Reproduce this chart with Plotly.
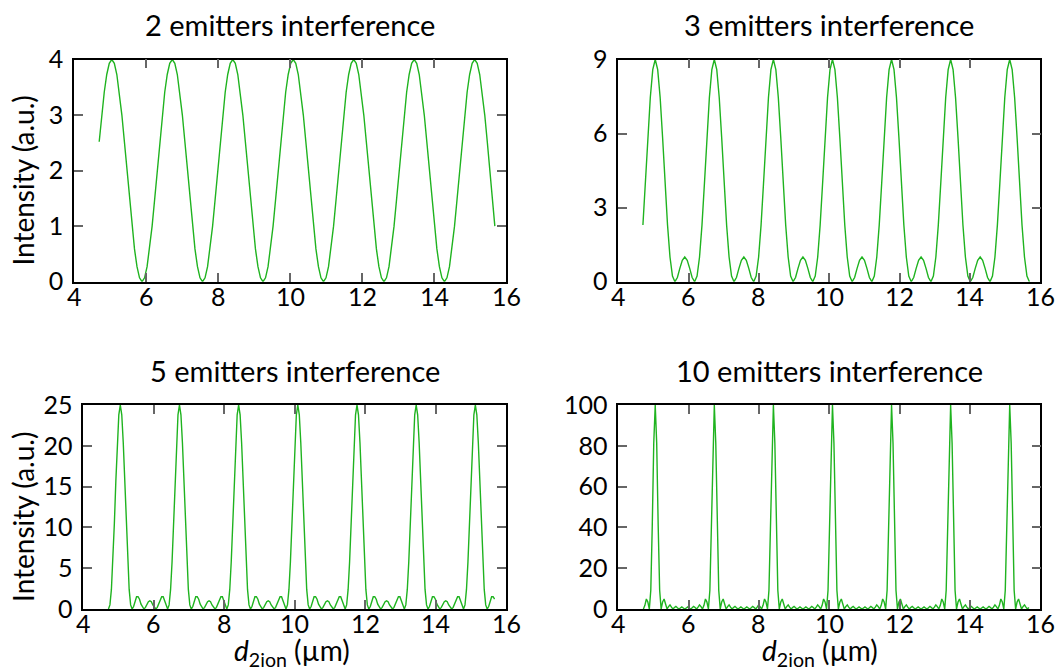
import plotly.graph_objects as go

# ---------------- data ----------------
# sampling grids (start, step) for the curves, in µm
X0_23, DX_23 = 4.70, 0.07     # 2 and 3 emitters
X0_510, DX_510 = 4.714, 0.042  # 5 and 10 emitters

y_2emit = [
    2.52, 3.0, 3.41, 3.73, 3.93,
    4, 3.93, 3.73, 3.41, 3.0, 2.52, 2.0, 1.48, 1.0, 0.59, 0.27, 0.07, 0, 0.07, 0.27, 0.59, 1.0, 1.48, 2.0, 2.52, 3.0, 3.41, 3.73, 3.93,
    4, 3.93, 3.73, 3.41, 3.0, 2.52, 2.0, 1.48, 1.0, 0.59, 0.27, 0.07, 0, 0.07, 0.27, 0.59, 1.0, 1.48, 2.0, 2.52, 3.0, 3.41, 3.73, 3.93,
    4, 3.93, 3.73, 3.41, 3.0, 2.52, 2.0, 1.48, 1.0, 0.59, 0.27, 0.07, 0, 0.07, 0.27, 0.59, 1.0, 1.48, 2.0, 2.52, 3.0, 3.41, 3.73, 3.93,
    4, 3.93, 3.73, 3.41, 3.0, 2.52, 2.0, 1.48, 1.0, 0.59, 0.27, 0.07, 0, 0.07, 0.27, 0.59, 1.0, 1.48, 2.0, 2.52, 3.0, 3.41, 3.73, 3.93,
    4, 3.93, 3.73, 3.41, 3.0, 2.52, 2.0, 1.48, 1.0, 0.59, 0.27, 0.07, 0, 0.07, 0.27, 0.59, 1.0, 1.48, 2.0, 2.52, 3.0, 3.41, 3.73, 3.93,
    4, 3.93, 3.73, 3.41, 3.0, 2.52, 2.0, 1.48, 1.0, 0.59, 0.27, 0.07, 0, 0.07, 0.27, 0.59, 1.0, 1.48, 2.0, 2.52, 3.0, 3.41, 3.73, 3.93,
    4, 3.93, 3.73, 3.41, 3.0, 2.52, 2.0, 1.48, 1.0,
]

y_3emit = [
    2.30, 4.0, 5.83, 7.46, 8.59,
    9, 8.59, 7.46, 5.83, 4.0, 2.30, 1.0, 0.23, 0, 0.17, 0.54, 0.87, 1.0, 0.87, 0.54, 0.17, 0, 0.23, 1.0, 2.30, 4.0, 5.83, 7.46, 8.59,
    9, 8.59, 7.46, 5.83, 4.0, 2.30, 1.0, 0.23, 0, 0.17, 0.54, 0.87, 1.0, 0.87, 0.54, 0.17, 0, 0.23, 1.0, 2.30, 4.0, 5.83, 7.46, 8.59,
    9, 8.59, 7.46, 5.83, 4.0, 2.30, 1.0, 0.23, 0, 0.17, 0.54, 0.87, 1.0, 0.87, 0.54, 0.17, 0, 0.23, 1.0, 2.30, 4.0, 5.83, 7.46, 8.59,
    9, 8.59, 7.46, 5.83, 4.0, 2.30, 1.0, 0.23, 0, 0.17, 0.54, 0.87, 1.0, 0.87, 0.54, 0.17, 0, 0.23, 1.0, 2.30, 4.0, 5.83, 7.46, 8.59,
    9, 8.59, 7.46, 5.83, 4.0, 2.30, 1.0, 0.23, 0, 0.17, 0.54, 0.87, 1.0, 0.87, 0.54, 0.17, 0, 0.23, 1.0, 2.30, 4.0, 5.83, 7.46, 8.59,
    9, 8.59, 7.46, 5.83, 4.0, 2.30, 1.0, 0.23, 0, 0.17, 0.54, 0.87, 1.0, 0.87, 0.54, 0.17, 0, 0.23, 1.0, 2.30, 4.0, 5.83, 7.46, 8.59,
    9, 8.59, 7.46, 5.83, 4.0, 2.30, 1.0, 0.23, 0,
]

y_5emit = [
    0, 0.5, 2.4, 5.8, 10.5, 15.7, 20.4, 23.8,
    25, 23.8, 20.4, 15.7, 10.5, 5.8, 2.4, 0.5, 0, 0.3, 1.0, 1.5, 1.5, 1.2, 0.6, 0.2, 0, 0.2, 0.5, 0.9, 1.0, 0.9, 0.5, 0.2, 0, 0.2, 0.6, 1.2, 1.5, 1.5, 1.0, 0.3, 0, 0.5, 2.4, 5.8, 10.5, 15.7, 20.4, 23.8,
    25, 23.8, 20.4, 15.7, 10.5, 5.8, 2.4, 0.5, 0, 0.3, 1.0, 1.5, 1.5, 1.2, 0.6, 0.2, 0, 0.2, 0.5, 0.9, 1.0, 0.9, 0.5, 0.2, 0, 0.2, 0.6, 1.2, 1.5, 1.5, 1.0, 0.3, 0, 0.5, 2.4, 5.8, 10.5, 15.7, 20.4, 23.8,
    25, 23.8, 20.4, 15.7, 10.5, 5.8, 2.4, 0.5, 0, 0.3, 1.0, 1.5, 1.5, 1.2, 0.6, 0.2, 0, 0.2, 0.5, 0.9, 1.0, 0.9, 0.5, 0.2, 0, 0.2, 0.6, 1.2, 1.5, 1.5, 1.0, 0.3, 0, 0.5, 2.4, 5.8, 10.5, 15.7, 20.4, 23.8,
    25, 23.8, 20.4, 15.7, 10.5, 5.8, 2.4, 0.5, 0, 0.3, 1.0, 1.5, 1.5, 1.2, 0.6, 0.2, 0, 0.2, 0.5, 0.9, 1.0, 0.9, 0.5, 0.2, 0, 0.2, 0.6, 1.2, 1.5, 1.5, 1.0, 0.3, 0, 0.5, 2.4, 5.8, 10.5, 15.7, 20.4, 23.8,
    25, 23.8, 20.4, 15.7, 10.5, 5.8, 2.4, 0.5, 0, 0.3, 1.0, 1.5, 1.5, 1.2, 0.6, 0.2, 0, 0.2, 0.5, 0.9, 1.0, 0.9, 0.5, 0.2, 0, 0.2, 0.6, 1.2, 1.5, 1.5, 1.0, 0.3, 0, 0.5, 2.4, 5.8, 10.5, 15.7, 20.4, 23.8,
    25, 23.8, 20.4, 15.7, 10.5, 5.8, 2.4, 0.5, 0, 0.3, 1.0, 1.5, 1.5, 1.2, 0.6, 0.2, 0, 0.2, 0.5, 0.9, 1.0, 0.9, 0.5, 0.2, 0, 0.2, 0.6, 1.2, 1.5, 1.5, 1.0, 0.3, 0, 0.5, 2.4, 5.8, 10.5, 15.7, 20.4, 23.8,
    25, 23.8, 20.4, 15.7, 10.5, 5.8, 2.4, 0.5, 0, 0.3, 1.0, 1.5, 1.5, 1.2,
]

y_10emit = [
    0, 1.8, 4.9, 3.4, 0, 9.2, 40.9, 81.2,
    100, 81.2, 40.9, 9.2, 0, 3.4, 4.9, 1.8, 0, 1.2, 2.0, 0.9, 0, 0.7, 1.3, 0.6, 0, 0.5, 1.0, 0.5, 0, 0.5, 1.0, 0.5, 0, 0.6, 1.3, 0.7, 0, 0.9, 2.0, 1.2, 0, 1.8, 4.9, 3.4, 0, 9.2, 40.9, 81.2,
    100, 81.2, 40.9, 9.2, 0, 3.4, 4.9, 1.8, 0, 1.2, 2.0, 0.9, 0, 0.7, 1.3, 0.6, 0, 0.5, 1.0, 0.5, 0, 0.5, 1.0, 0.5, 0, 0.6, 1.3, 0.7, 0, 0.9, 2.0, 1.2, 0, 1.8, 4.9, 3.4, 0, 9.2, 40.9, 81.2,
    100, 81.2, 40.9, 9.2, 0, 3.4, 4.9, 1.8, 0, 1.2, 2.0, 0.9, 0, 0.7, 1.3, 0.6, 0, 0.5, 1.0, 0.5, 0, 0.5, 1.0, 0.5, 0, 0.6, 1.3, 0.7, 0, 0.9, 2.0, 1.2, 0, 1.8, 4.9, 3.4, 0, 9.2, 40.9, 81.2,
    100, 81.2, 40.9, 9.2, 0, 3.4, 4.9, 1.8, 0, 1.2, 2.0, 0.9, 0, 0.7, 1.3, 0.6, 0, 0.5, 1.0, 0.5, 0, 0.5, 1.0, 0.5, 0, 0.6, 1.3, 0.7, 0, 0.9, 2.0, 1.2, 0, 1.8, 4.9, 3.4, 0, 9.2, 40.9, 81.2,
    100, 81.2, 40.9, 9.2, 0, 3.4, 4.9, 1.8, 0, 1.2, 2.0, 0.9, 0, 0.7, 1.3, 0.6, 0, 0.5, 1.0, 0.5, 0, 0.5, 1.0, 0.5, 0, 0.6, 1.3, 0.7, 0, 0.9, 2.0, 1.2, 0, 1.8, 4.9, 3.4, 0, 9.2, 40.9, 81.2,
    100, 81.2, 40.9, 9.2, 0, 3.4, 4.9, 1.8, 0, 1.2, 2.0, 0.9, 0, 0.7, 1.3, 0.6, 0, 0.5, 1.0, 0.5, 0, 0.5, 1.0, 0.5, 0, 0.6, 1.3, 0.7, 0, 0.9, 2.0, 1.2, 0, 1.8, 4.9, 3.4, 0, 9.2, 40.9, 81.2,
    100, 81.2, 40.9, 9.2, 0, 3.4, 4.9, 1.8, 0, 1.2, 2.0, 0.9, 0, 0.7,
]

titles = ["2 emitters interference", "3 emitters interference",
          "5 emitters interference", "10 emitters interference"]
y_ranges = [[0, 4], [0, 9], [0, 25], [0, 100]]
y_dticks = [1, 3, 5, 20]
x_ticks = [4, 6, 8, 10, 12, 14, 16]
y_label = "Intensity (a.u.)"
x_label = "<i>d</i><sub>2ion</sub> (µm)"

# ---------------- figure ----------------
W, H = 1059, 670
FONT = "Lato"
GREEN = "#1fb31f"

def grid(x0, dx, n):
    return [round(x0 + i * dx, 4) for i in range(n)]

series = [
    (grid(X0_23, DX_23, len(y_2emit)), y_2emit),
    (grid(X0_23, DX_23, len(y_3emit)), y_3emit),
    (grid(X0_510, DX_510, len(y_5emit)), y_5emit),
    (grid(X0_510, DX_510, len(y_10emit)), y_10emit),
]

# panel boxes in pixels: (left, right, top, bottom)
boxes = [(74, 506, 59.5, 281.7), (618.3, 1040.3, 59.5, 281.7),
         (83.3, 506, 405, 609), (618.3, 1040.3, 405, 609)]

fig = go.Figure()
layout = dict(
    width=W, height=H, margin=dict(l=0, r=0, t=0, b=0, autoexpand=False),
    paper_bgcolor="white", plot_bgcolor="white", showlegend=False,
    font=dict(family=FONT, size=24, color="black"),
)
annotations = []
for i, ((xs, ys), box, yr, ydt, title) in enumerate(zip(series, boxes, y_ranges, y_dticks, titles)):
    k = "" if i == 0 else str(i + 1)
    fig.add_trace(go.Scatter(x=xs, y=ys, mode="lines",
                             line=dict(color=GREEN, width=1.4),
                             xaxis="x" + k, yaxis="y" + k, hoverinfo="skip"))
    l, r, t, b = box
    common = dict(showline=True, linecolor="black", linewidth=1.6, mirror="allticks",
                  ticks="inside", ticklen=9, tickwidth=1.5, tickcolor="#666666",
                  automargin=False,
                  showgrid=False, zeroline=False, tickfont=dict(family=FONT, size=25, color="black"))
    layout["xaxis" + k] = dict(common, domain=[l / W, r / W], anchor="y" + k,
                               range=[4, 16], tickvals=x_ticks, showticklabels=False)
    layout["yaxis" + k] = dict(common, domain=[1 - b / H, 1 - t / H], anchor="x" + k,
                               range=yr, dtick=ydt, tick0=0, ticklabelstandoff=4)
    # x tick labels, placed on the axis' own data scale
    for tv in x_ticks:
        annotations.append(dict(text=str(tv), x=tv, xref="x" + k, y=1 - (b + 14) / H, yref="paper",
                                xanchor="center", yanchor="middle", showarrow=False,
                                font=dict(family=FONT, size=25, color="black")))
    annotations.append(dict(text=title, x=(l + r) / 2 / W, y=1 - (t - 35) / H,
                            xref="paper", yref="paper", xanchor="center", yanchor="middle",
                            showarrow=False, font=dict(family=FONT, size=29, color="black")))
    if i in (0, 2):
        annotations.append(dict(text=y_label, x=23 / W, y=1 - ((t + b) / 2 + 10) / H, textangle=-90,
                                xref="paper", yref="paper", xanchor="center", yanchor="middle",
                                showarrow=False, font=dict(family=FONT, size=28, color="black")))
    if i in (2, 3):
        cx = (l + r) / 2 - (3 if i == 2 else 9)
        annotations.append(dict(text=x_label, x=cx / W, y=1 - 652 / H,
                                xref="paper", yref="paper", xanchor="center", yanchor="middle",
                                showarrow=False, font=dict(family=FONT, size=28, color="black")))
layout["annotations"] = annotations
fig.update_layout(**layout)
fig.write_html("out.html")
